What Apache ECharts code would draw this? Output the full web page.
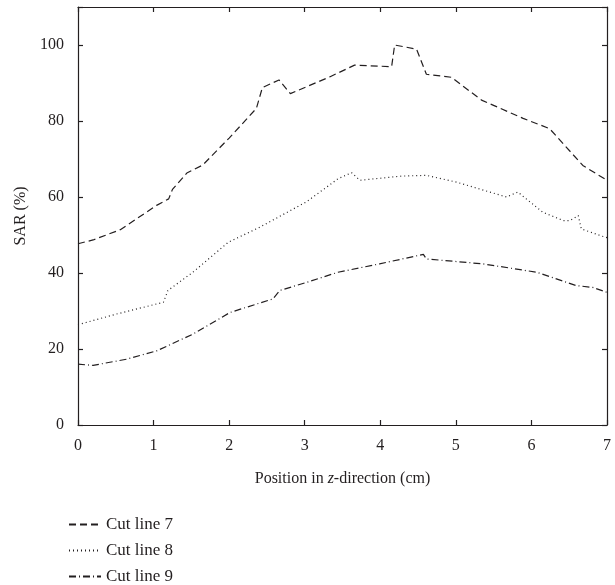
<!DOCTYPE html>
<html>
<head>
<meta charset="utf-8">
<script src="https://cdn.jsdelivr.net/npm/echarts@6/dist/echarts.min.js"></script>
<style>html,body{margin:0;padding:0;background:#fff}#c{width:615px;height:585px}</style>
</head>
<body>
<div id="c"></div>
<script>
const xTicks = [0, 1, 2, 3, 4, 5, 6, 7];
const yTicks = [0, 20, 40, 60, 80, 100];

const names = ['Cut line 7', 'Cut line 8', 'Cut line 9'];

const x7 = [0, 0.2, 0.56, 1.04, 1.2, 1.25, 1.44, 1.65, 2.0, 2.36, 2.44, 2.66, 2.81, 3.33, 3.66, 4.15, 4.19, 4.48, 4.61, 4.94, 5.34, 5.89, 6.24, 6.68, 7.0];
const y7 = [47.7, 48.7, 51.4, 57.8, 59.5, 62.0, 66.3, 68.4, 75.5, 83.3, 88.8, 90.8, 87.2, 91.6, 94.7, 94.3, 100, 98.9, 92.3, 91.5, 85.5, 80.7, 78.0, 68.3, 64.4];

const x8 = [0, 0.51, 1.13, 1.19, 1.52, 1.99, 2.41, 3.02, 3.29, 3.44, 3.62, 3.73, 4.28, 4.61, 5.01, 5.67, 5.82, 6.15, 6.42, 6.51, 6.62, 6.66, 6.95, 7.0];
const y8 = [26.4, 29.2, 32.3, 35.4, 40.2, 48.1, 52.1, 58.7, 62.6, 64.8, 66.4, 64.4, 65.5, 65.7, 63.9, 60.0, 61.3, 56.0, 53.8, 53.8, 55.1, 51.6, 49.6, 49.3];

const x9 = [0, 0.2, 0.64, 1.04, 1.52, 2.01, 2.58, 2.67, 3.02, 3.44, 3.99, 4.57, 4.61, 5.36, 6.07, 6.59, 6.81, 7.0];
const y9 = [16.0, 15.7, 17.3, 19.5, 23.9, 29.6, 33.2, 35.4, 37.5, 40.2, 42.4, 44.9, 43.7, 42.4, 40.2, 36.7, 36.2, 34.9];

const pairs = (xs, ys) => xs.map((x, i) => [x, ys[i]]);
const FONT = 'Liberation Serif';
const INK = '#231f20';

const dashes = [[7, 4], [1, 3], [7, 3, 1, 3]];
const dataSets = [pairs(x7, y7), pairs(x8, y8), pairs(x9, y9)];

const chart = echarts.init(document.getElementById('c'));
function axisCommon() {
  return {
    axisLine: { show: true, onZero: false, lineStyle: { color: INK, width: 1.2 } },
    axisTick: { show: true, inside: true, length: 5, lineStyle: { color: INK, width: 1.2 } },
    splitLine: { show: false }
  };
}
chart.setOption({
  animation: false,
  backgroundColor: '#fff',
  textStyle: { fontFamily: FONT, color: INK },
  grid: { left: 78, right: 8, top: 7, bottom: 160, containLabel: false },
  xAxis: [
    Object.assign({
      type: 'value', position: 'bottom', min: xTicks[0], max: xTicks[xTicks.length - 1], interval: 1,
      name: 'Position in {i|z}-direction (cm)', nameLocation: 'middle', nameGap: 46,
      nameTextStyle: { fontFamily: FONT, fontSize: 16, color: INK,
        rich: { i: { fontFamily: FONT, fontStyle: 'italic', fontSize: 16, color: INK } } },
      axisLabel: { fontFamily: FONT, fontSize: 16, color: INK, margin: 13 }
    }, axisCommon()),
    Object.assign({
      type: 'value', position: 'top', min: 0, max: 7, interval: 1,
      axisLabel: { show: false }
    }, axisCommon())
  ],
  yAxis: [
    Object.assign({
      type: 'value', position: 'left', min: 0, max: 110, interval: 20,
      name: 'SAR (%)', nameLocation: 'middle', nameGap: 48,
      nameTextStyle: { fontFamily: FONT, fontSize: 16, color: INK },
      axisLabel: { fontFamily: FONT, fontSize: 16, color: INK, margin: 14,
        formatter: v => (yTicks.indexOf(v) >= 0 ? String(v) : '') }
    }, axisCommon()),
    Object.assign({
      type: 'value', position: 'right', min: 0, max: 110, interval: 20,
      axisLabel: { show: false }
    }, axisCommon())
  ],
  legend: {
    orient: 'vertical', left: 63, top: 511, height: 80, itemWidth: 32, itemHeight: 12, itemGap: 9,
    textStyle: { fontFamily: FONT, fontSize: 17, color: INK },
    itemStyle: { color: 'rgba(0,0,0,0)', borderWidth: 0 },
    data: names
  },
  series: names.map((n, i) => ({
    name: n, type: 'line', data: dataSets[i], symbol: 'none', smooth: false,
    xAxisIndex: 0, yAxisIndex: 0,
    lineStyle: { color: INK, width: 1.2, type: dashes[i] },
    itemStyle: { color: INK }
  }))
});
</script>
</body>
</html>
